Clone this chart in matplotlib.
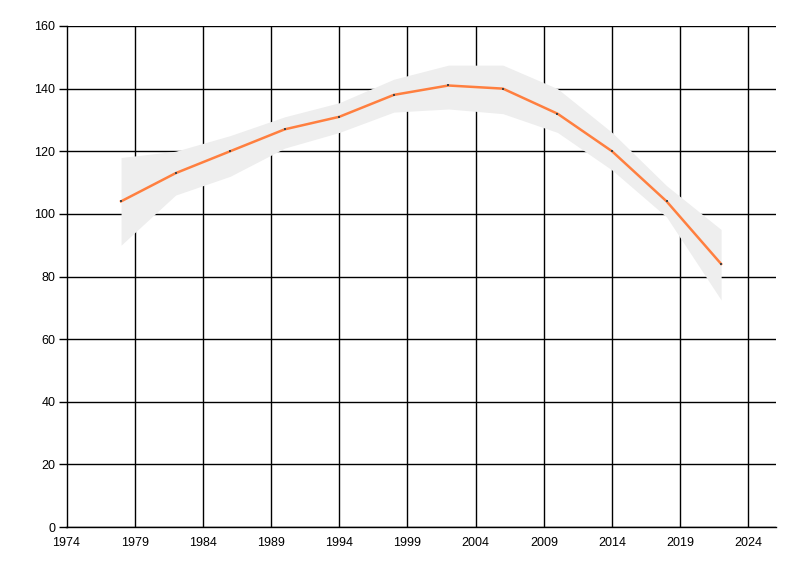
import matplotlib
matplotlib.use("Agg")
from matplotlib import pyplot as plt

years = [1978, 1982, 1986, 1990, 1994, 1998, 2002, 2006, 2010, 2014, 2018, 2022]
values = [104, 113, 120, 127, 131, 138, 141, 140, 132, 120, 104, 84]
upper = [118, 120, 125, 131, 135.5, 143, 147.5, 147.5, 140, 126, 109, 95]
lower = [90, 106, 112, 121, 126, 132.5, 133.5, 132, 126, 114, 99, 72.5]

x_ticks = list(range(1974, 2025, 5))
y_ticks = list(range(0, 161, 20))

plt.rcParams['font.family'] = ['Liberation Sans', 'DejaVu Sans']

fig = plt.figure(figsize=(8, 5.76), dpi=100)
ax = fig.add_axes([66.5 / 800, 1 - 527 / 576, (775.7 - 66.5) / 800, (527 - 26) / 576])

ax.fill_between(years, lower, upper, color='#eeeeee', linewidth=0, zorder=3)
ax.plot(years, values, color='#ff7f3f', linewidth=1.8, zorder=4)
ax.scatter(years, values, s=2, marker='s', color='#444444', linewidths=0, zorder=5)

ax.set_xlim(1974, 2026)
ax.set_ylim(0, 160)
ax.set_xticks(x_ticks)
ax.set_yticks(y_ticks)
ax.grid(True, color='black', linewidth=1)
ax.set_axisbelow(True)

for side in ['top', 'right']:
    ax.spines[side].set_visible(False)
for side in ['left', 'bottom']:
    ax.spines[side].set_linewidth(1)
    ax.spines[side].set_zorder(6)

ax.tick_params(axis='y', length=6, width=1, labelsize=9, pad=2)
ax.tick_params(axis='x', length=0, labelsize=9, pad=7)

plt.savefig('out.png', dpi=100)
